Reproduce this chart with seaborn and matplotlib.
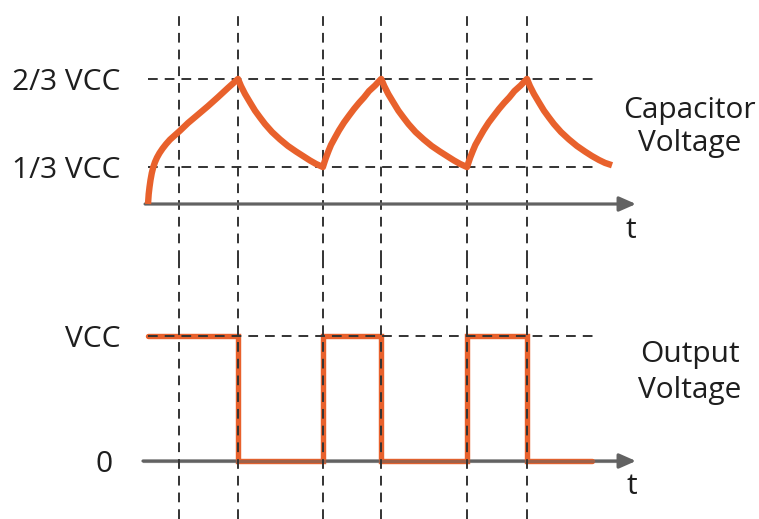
import numpy as np
import pandas as pd
import matplotlib
matplotlib.use("Agg")
import matplotlib.pyplot as plt
import matplotlib.transforms as mtransforms
import seaborn as sns

# ---- data -------------------------------------------------------------
# Capacitor voltage (fraction of VCC) against time, segment by segment
cap_t = [
    # first charge from 0 V
    0.0, 0.012, 0.026, 0.043, 0.065, 0.091, 0.120, 0.154, 0.197, 0.249,
    0.309, 0.377, 0.463, 0.549, 0.686, 0.858, 1.029, 1.201, 1.372, 1.544,
    # discharge
    1.595, 1.664, 1.750, 1.835, 1.921, 2.007, 2.127, 2.264, 2.401, 2.539,
    2.659, 2.779, 2.882, 3.0,
    # charge
    3.027, 3.053, 3.096, 3.139, 3.208, 3.276, 3.362, 3.448, 3.533, 3.619,
    3.705, 3.791, 3.894, 4.0,
    # discharge
    4.052, 4.121, 4.208, 4.294, 4.381, 4.468, 4.589, 4.728, 4.866, 5.006,
    5.127, 5.249, 5.353, 5.472,
    # charge
    5.500, 5.526, 5.571, 5.615, 5.686, 5.756, 5.844, 5.933, 6.020, 6.108,
    6.197, 6.285, 6.391, 6.5,
    # discharge (trace ends here)
    6.551, 6.620, 6.706, 6.791, 6.877, 6.963, 7.083, 7.220, 7.357, 7.495,
    7.615, 7.735, 7.838, 7.959,
]
cap_v = [
    0.0, 0.090, 0.153, 0.216, 0.279, 0.333, 0.352, 0.369, 0.386, 0.403,
    0.420, 0.437, 0.454, 0.471, 0.500, 0.532, 0.564, 0.598, 0.633, 0.667,
    0.640, 0.610, 0.578, 0.547, 0.521, 0.496, 0.466, 0.438, 0.413, 0.392,
    0.375, 0.358, 0.345, 0.333,
    0.352, 0.369, 0.394, 0.417, 0.445, 0.472, 0.502, 0.528, 0.553, 0.576,
    0.597, 0.621, 0.642, 0.667,
    0.640, 0.610, 0.578, 0.547, 0.521, 0.496, 0.466, 0.438, 0.413, 0.392,
    0.375, 0.358, 0.345, 0.333,
    0.352, 0.369, 0.394, 0.417, 0.445, 0.472, 0.502, 0.528, 0.553, 0.576,
    0.597, 0.621, 0.642, 0.667,
    0.640, 0.610, 0.578, 0.547, 0.521, 0.496, 0.466, 0.438, 0.413, 0.392,
    0.375, 0.360, 0.349, 0.340,
]

# Output voltage (fraction of VCC), step changes at these instants
out_t = [0.0, 1.544, 3.0, 4.0, 5.472, 6.5, 7.62]
out_v = [1, 0, 1, 0, 1, 0, 0]

# Thresholds and guide lines
cap_levels = [1 / 3, 2 / 3]
cap_labels = ["1/3 VCC", "2/3 VCC"]
out_levels = [0, 1]
out_labels = ["0", "VCC"]
guide_times = [0.53, 1.544, 3.0, 4.0, 5.472, 6.5]

# ---- style ------------------------------------------------------------
sns.set_theme(style="white")
plt.rcParams["font.family"] = ["Open Sans", "DejaVu Sans"]

ORANGE = "#E8612C"
AXIS_GREY = "#626262"
DASH_GREY = "#333333"
TEXT = "#1e1e1e"
FS = 21.5
DASH = (5, 3.6)

# Schematic voltage scale: the 0..1/3 band is drawn compressed
LOW_SHARE = 37 / 125


def fwd(v):
    v = np.asarray(v, dtype=float)
    return np.where(v < 1 / 3, v * 3 * LOW_SHARE,
                    LOW_SHARE + (v - 1 / 3) * 3 * (1 - LOW_SHARE))


def inv(d):
    d = np.asarray(d, dtype=float)
    return np.where(d < LOW_SHARE, d / (3 * LOW_SHARE),
                    1 / 3 + (d - LOW_SHARE) / (3 * (1 - LOW_SHARE)))


W, H = 759, 519
fig = plt.figure(figsize=(W / 100, H / 100), dpi=100)
fig.patch.set_facecolor("white")

left_px, right_px = 143, 640
ax_top = fig.add_axes([left_px / W, (H - 260) / H, (right_px - left_px) / W, 260 / H])
ax_bot = fig.add_axes([left_px / W, 0, (right_px - left_px) / W, 259 / H])

xlim = (-0.0858, 8.439)
for ax in (ax_top, ax_bot):
    ax.set_xlim(*xlim)
    ax.set_xticks([])
    for s in ax.spines.values():
        s.set_visible(False)
    ax.patch.set_alpha(0)
    ax.tick_params(axis="y", length=0, pad=16.5, labelsize=FS, labelcolor=TEXT)

arrow_style = "-|>,head_length=0.5,head_width=0.22"

# ---- capacitor voltage panel -----------------------------------------
ax_top.set_yscale("function", functions=(fwd, inv))
ax_top.set_ylim(-0.5045, 0.966)
ax_top.set_yticks(cap_levels, cap_labels)

ax_top.vlines(guide_times, -0.5045, 0.909, colors=DASH_GREY, linewidth=1.4,
              linestyles=[(0, DASH)], zorder=2)
ax_top.hlines(cap_levels, 0.0, 7.72, colors=DASH_GREY, linewidth=1.4,
              linestyles=[(0, DASH)], zorder=2)

ax_top.annotate("", xy=(8.37, 0), xytext=(-0.05, 0),
                arrowprops=dict(arrowstyle=arrow_style, color=AXIS_GREY, lw=2.3,
                                shrinkA=0, shrinkB=0, mutation_scale=20),
                zorder=3)

cap_df = pd.DataFrame({"t": cap_t, "v": cap_v})
sns.lineplot(data=cap_df, x="t", y="v", ax=ax_top, color=ORANGE, lw=4.6,
             sort=False, estimator=None, zorder=4,
             solid_joinstyle="round", solid_capstyle="butt")
ax_top.set_xlabel("")
ax_top.set_ylabel("")

ax_top.text(0.982, 0.115, "t", transform=ax_top.transAxes, ha="center",
            va="center", fontsize=FS, color=TEXT)
ax_top.text(1.1, 0.512, "Capacitor\nVoltage", transform=ax_top.transAxes,
            ha="center", va="center", fontsize=FS, color=TEXT, linespacing=1.2)

# ---- output voltage panel --------------------------------------------
ax_bot.set_ylim(-0.464, 1.608)
ax_bot.set_yticks(out_levels, out_labels)
# the "0" label sits a little further left than "VCC"
zero_label = ax_bot.get_yticklabels()[0]
zero_label.set_transform(zero_label.get_transform() +
                         mtransforms.ScaledTranslation(-0.07, 0, fig.dpi_scale_trans))

ax_bot.annotate("", xy=(8.37, 0), xytext=(-0.086, 0),
                arrowprops=dict(arrowstyle=arrow_style, color=AXIS_GREY, lw=2.3,
                                shrinkA=0, shrinkB=0, mutation_scale=20),
                zorder=1)

out_df = pd.DataFrame({"t": out_t, "v": out_v})
sns.lineplot(data=out_df, x="t", y="v", ax=ax_bot, color=ORANGE, lw=3.9,
             drawstyle="steps-post", estimator=None, zorder=2,
             solid_joinstyle="miter")
# darkened where the trace sits on the time axis
ax_bot.plot([-0.086, 8.2], [0, 0], color=AXIS_GREY, lw=2.3, alpha=0.55, zorder=3)
ax_bot.set_xlabel("")
ax_bot.set_ylabel("")

ax_bot.vlines(guide_times, -0.464, 1.608, colors=DASH_GREY, linewidth=1.4,
              linestyles=[(0, DASH)], zorder=4)
ax_bot.hlines([1], 0.0, 7.72, colors=DASH_GREY, linewidth=1.4,
              linestyles=[(0, DASH)], zorder=4)

ax_bot.text(0.984, 0.125, "t", transform=ax_bot.transAxes, ha="center",
            va="center", fontsize=FS, color=TEXT)
ax_bot.text(1.1, 0.566, "Output\nVoltage", transform=ax_bot.transAxes,
            ha="center", va="center", fontsize=FS, color=TEXT, linespacing=1.32)

fig.savefig("out.png", dpi=100, facecolor="white")
